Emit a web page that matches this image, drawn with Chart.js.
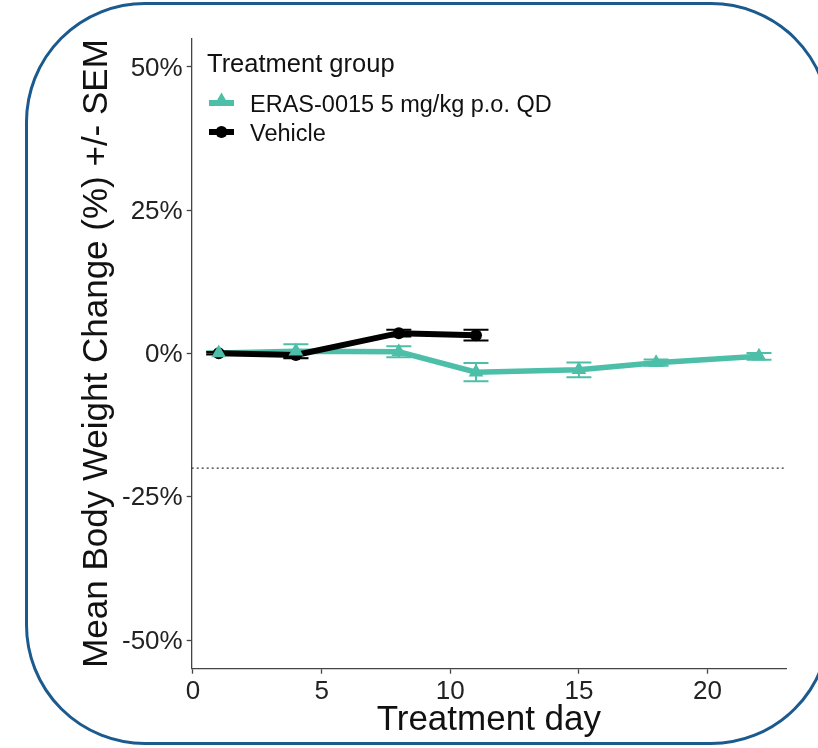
<!DOCTYPE html>
<html lang="en">
<head>
<meta charset="UTF-8">
<title>Mean Body Weight Change</title>
<script src="https://cdn.jsdelivr.net/npm/chart.js@4"></script>
<style>
  body { margin: 0; background: #fff; }
  .wrap { position: relative; width: 818px; height: 748px; overflow: hidden; }
  .frame { position: absolute; left: 25px; top: 2px; width: 806px; height: 743px; box-sizing: border-box;
           border: 3px solid #1a5a8e; border-radius: 120px; pointer-events: none; }
</style>
</head>
<body>
<div class="wrap">
  <canvas id="chart" width="818" height="748"></canvas>
  <div class="frame"></div>
</div>
<script>
// data
const erasDays = [1, 4, 8, 11, 15, 18, 22];
const erasMean = [0.1, 0.4, 0.3, -3.25, -2.85, -1.6, -0.5];
const erasSem = [0.3, 1.2, 0.95, 1.6, 1.3, 0.55, 0.6];
const vehDays = [1, 4, 8, 11];
const vehMean = [0.05, -0.25, 3.55, 3.2];
const vehSem = [0.2, 0.6, 0.6, 0.95];
const xTicks = [0, 5, 10, 15, 20];
const yTicks = [-50, -25, 0, 25, 50];
const limitLine = -20;

const TEAL = '#4dbfa9';
const FONT = "'Liberation Sans', Arial, Helvetica, sans-serif";
const labels = ['ERAS-0015 5 mg/kg p.o. QD', 'Vehicle'];

function points(xs, ys) {
  return xs.map((x, i) => ({ x: x, y: ys[i] }));
}

// error bars, dotted reference line, legend and axis titles
const extras = {
  id: 'extras',
  beforeDatasetsDraw(chart) {
    const { ctx, scales: { x, y }, chartArea } = chart;
    ctx.save();
    // dotted line at -20%
    ctx.strokeStyle = '#333';
    ctx.lineWidth = 1.3;
    ctx.setLineDash([2, 3]);
    ctx.beginPath();
    ctx.moveTo(chartArea.left, y.getPixelForValue(limitLine));
    ctx.lineTo(chartArea.right, y.getPixelForValue(limitLine));
    ctx.stroke();
    ctx.setLineDash([]);

    const groups = [[erasDays, erasMean, erasSem, TEAL], [vehDays, vehMean, vehSem, '#000']];
    for (const [xs, ms, ss, col] of groups) {
      ctx.strokeStyle = col;
      ctx.lineWidth = 2;
      xs.forEach((d, i) => {
        const px = x.getPixelForValue(d);
        const top = y.getPixelForValue(ms[i] + ss[i]);
        const bot = y.getPixelForValue(ms[i] - ss[i]);
        ctx.beginPath();
        ctx.moveTo(px, top); ctx.lineTo(px, bot);
        ctx.moveTo(px - 12.5, top); ctx.lineTo(px + 12.5, top);
        ctx.moveTo(px - 12.5, bot); ctx.lineTo(px + 12.5, bot);
        ctx.stroke();
      });
    }
    ctx.restore();
  },
  afterDraw(chart) {
    const { ctx, chartArea } = chart;
    ctx.save();
    ctx.fillStyle = '#111';

    // axis titles
    ctx.font = '35px ' + FONT;
    ctx.textAlign = 'center';
    ctx.textBaseline = 'alphabetic';
    ctx.fillText('Treatment day', (chartArea.left + chartArea.right) / 2, 730);
    ctx.save();
    ctx.translate(107, (chartArea.top + chartArea.bottom) / 2);
    ctx.rotate(-Math.PI / 2);
    ctx.fillText('Mean Body Weight Change (%) +/- SEM', 0, 0);
    ctx.restore();

    // legend
    ctx.textAlign = 'left';
    ctx.font = '25.5px ' + FONT;
    ctx.fillText('Treatment group', 207, 72);
    ctx.font = '23.5px ' + FONT;
    const rows = [[103, TEAL, 'triangle', 8.5], [132, '#000', 'circle', 6]];
    rows.forEach(([yy, col, style, r], i) => {
      ctx.strokeStyle = col;
      ctx.fillStyle = col;
      ctx.lineWidth = 6;
      ctx.beginPath();
      ctx.moveTo(209, yy); ctx.lineTo(234, yy);
      ctx.stroke();
      Chart.helpers.drawPoint(ctx, { pointStyle: style, radius: r, rotation: 0, borderWidth: 0 }, 221.5, yy - (style === 'triangle' ? 2 : 0));
      ctx.fillStyle = '#111';
      ctx.fillText(labels[i], 250, yy + 8.5);
    });
    ctx.restore();
  }
};

const lineStyle = { pointRadius: 0, fill: false };
const markStyle = { showLine: false, pointBorderWidth: 0, order: 0 };

new Chart(document.getElementById('chart'), {
  type: 'line',
  data: {
    datasets: [{
      label: labels[0],
      data: points(erasDays, erasMean),
      borderColor: TEAL,
      borderWidth: 5.5,
      order: 2,
      ...lineStyle
    }, {
      label: labels[1],
      data: points(vehDays, vehMean),
      borderColor: '#000',
      borderWidth: 6,
      order: 1,
      ...lineStyle
    }, {
      // markers on top of both lines
      label: labels[0] + ' points',
      data: points(erasDays, erasMean),
      backgroundColor: TEAL,
      borderColor: TEAL,
      pointStyle: 'triangle',
      pointRadius: 8.5,
      ...markStyle
    }, {
      label: labels[1] + ' points',
      data: points(vehDays, vehMean),
      backgroundColor: '#000',
      borderColor: '#000',
      pointStyle: 'circle',
      pointRadius: 6,
      ...markStyle
    }]
  },
  options: {
    responsive: false,
    animation: false,
    layout: { padding: { top: 38.3, right: 32, left: 0, bottom: 0 } },
    plugins: { legend: { display: false }, tooltip: { enabled: false } },
    scales: {
      x: {
        type: 'linear',
        min: -0.05,
        max: 23.05,
        afterBuildTicks: s => { s.ticks = xTicks.map(v => ({ value: v })); },
        afterFit: s => { s.height = 79.3; },
        grid: { color: 'transparent', drawOnChartArea: false, tickColor: '#444', tickLength: 5, tickWidth: 1.3 },
        border: { color: '#444', width: 1.3 },
        ticks: { color: '#222', font: { family: FONT, size: 26 }, padding: 3, maxRotation: 0 }
      },
      y: {
        min: -55,
        max: 55,
        afterBuildTicks: s => { s.ticks = yTicks.map(v => ({ value: v })); },
        afterFit: s => { s.width = 191.7; },
        grid: { color: 'transparent', drawOnChartArea: false, tickColor: '#444', tickLength: 5, tickWidth: 1.3 },
        border: { color: '#444', width: 1.3 },
        ticks: { color: '#222', font: { family: FONT, size: 26 }, padding: 4, labelOffset: 1.5, callback: v => v + '%' }
      }
    }
  },
  plugins: [extras]
});
</script>
</body>
</html>
